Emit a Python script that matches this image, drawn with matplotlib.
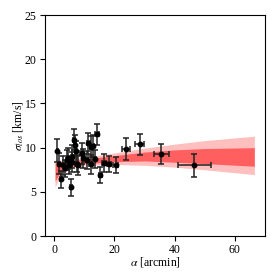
import matplotlib
matplotlib.use("Agg")
import matplotlib.pyplot as plt
import numpy as np

plt.rcParams['font.family'] = ['Liberation Serif', 'DejaVu Serif']
plt.rcParams['mathtext.fontset'] = 'stix'

# model band
band_alpha = [0.3, 2, 5, 10, 20, 30, 40, 50, 66.5]
outer_lo = [5.5, 6.8, 7.6, 8.0, 8.1, 8.0, 7.8, 7.5, 6.95]
outer_hi = [8.6, 8.6, 8.7, 8.9, 9.4, 9.95, 10.4, 10.8, 11.3]
inner_lo = [6.2, 7.2, 7.8, 8.2, 8.4, 8.5, 8.35, 8.2, 7.9]
inner_hi = [8.3, 8.4, 8.5, 8.7, 9.1, 9.5, 9.75, 9.9, 10.0]

# data points
alpha = [1.1, 1.65, 2.3, 3.1, 3.6, 4.2, 4.5, 4.95, 5.6, 5.8, 6.0, 6.7, 6.9, 7.3,
         7.5, 8.0, 9.1, 9.7, 10.8, 11.3, 12.2, 12.4, 12.8, 13.5, 14.3, 15.4,
         16.5, 18.2, 20.4, 23.8, 28.4, 35.6, 46.5]
sigma = [9.65, 8.2, 6.4, 8.0, 7.65, 8.6, 8.8, 8.0, 5.5, 8.4, 9.0, 10.9, 10.3, 9.6,
         8.2, 8.0, 9.35, 8.8, 8.6, 10.5, 8.1, 10.1, 10.2, 8.7, 11.5, 6.9,
         8.3, 8.2, 8.0, 9.85, 10.4, 9.3, 8.0]
sigma_err = [1.3, 1.2, 1.0, 1.1, 1.0, 1.1, 1.2, 1.0, 1.0, 1.1, 1.3, 1.2, 1.1, 1.2,
             1.0, 1.1, 1.2, 1.1, 1.0, 1.2, 1.1, 1.2, 1.2, 1.0, 1.2, 0.9,
             1.0, 0.9, 0.9, 1.2, 1.2, 1.1, 1.3]
alpha_err = [0.3, 0.3, 0.3, 0.3, 0.3, 0.3, 0.3, 0.3, 0.3, 0.3, 0.3, 0.4, 0.4, 0.4,
             0.4, 0.4, 0.4, 0.5, 0.5, 0.5, 0.5, 0.5, 0.5, 0.5, 0.6, 0.6,
             0.6, 0.7, 0.8, 1.4, 1.5, 2.5, 5.5]

fig = plt.figure(figsize=(2.8, 2.8), dpi=100)
ax = fig.add_axes([0.161, 0.157, 0.785, 0.789])

ax.fill_between(band_alpha, outer_lo, outer_hi, color='red', alpha=0.25, lw=0)
ax.fill_between(band_alpha, inner_lo, inner_hi, color='red', alpha=0.5, lw=0)

ax.errorbar(alpha, sigma, yerr=sigma_err, xerr=alpha_err, fmt='o', color='k',
            ecolor='#222222', ms=3.2, elinewidth=1.1, capsize=2.2, capthick=1.1)

ax.set_xlim(-3, 70)
ax.set_ylim(0, 25)
ax.set_xticks([0, 20, 40, 60])
ax.set_yticks([0, 5, 10, 15, 20, 25])
ax.tick_params(labelsize=8.5, length=3.5, pad=2.5)
ax.set_xlabel(r'$\alpha$ [arcmin]', fontsize=8.5, labelpad=-1)
ax.set_ylabel(r'$\sigma_{los}$ [km/s]', fontsize=8.5, labelpad=0)

fig.savefig('out.png', dpi=100)
